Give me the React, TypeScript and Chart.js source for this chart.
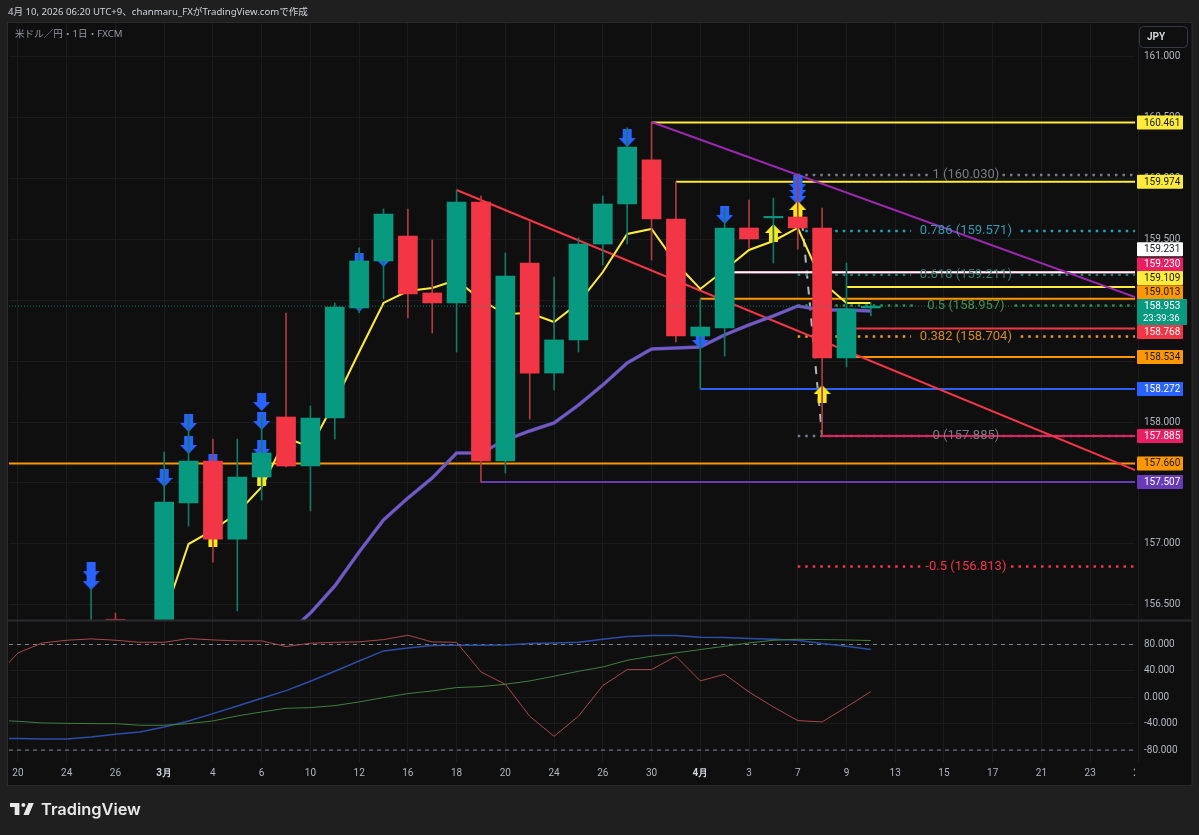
import React, { useEffect, useRef } from "react";
import { Chart, registerables } from "chart.js";

Chart.register(...registerables);

// bar positions are trading days: index 0 is 20 Feb
const firstCandle = 3;
const opens = [156.2, 156.38, 156.15, 156.3, 157.335, 157.68, 157.039, 157.549, 158.042, 157.639, 158.034, 158.938, 159.324, 159.529, 159.061, 158.979, 159.808, 157.68, 159.307, 158.403, 158.675, 159.463, 159.792, 160.154, 159.669, 158.707, 158.773, 159.595, 159.678, 159.685, 159.595, 158.527, 158.938];
const highs = [156.637, 156.431, 156.35, 157.754, 158.058, 157.861, 157.861, 158.058, 158.896, 158.132, 158.979, 159.431, 159.751, 159.751, 159.496, 159.907, 159.858, 159.39, 159.644, 159.192, 159.513, 159.858, 160.417, 160.461, 159.974, 159.013, 159.759, 159.825, 159.841, 160.03, 159.759, 159.307, 158.98];
const lows = [156.0, 156.1, 156.0, 156.2, 157.146, 156.85, 156.448, 157.36, 157.631, 157.27, 157.861, 158.9, 159.011, 158.855, 158.732, 158.576, 157.507, 157.582, 158.025, 158.264, 158.576, 159.291, 159.463, 159.332, 158.658, 158.272, 158.543, 159.431, 159.307, 159.42, 157.885, 158.453, 158.872];
const closes = [156.3, 156.2, 156.3, 157.343, 157.68, 157.039, 157.549, 157.746, 157.639, 158.034, 158.946, 159.324, 159.71, 159.053, 158.979, 159.808, 157.68, 159.2, 158.403, 158.675, 159.463, 159.792, 160.26, 159.669, 158.707, 158.781, 159.595, 159.505, 159.69, 159.595, 158.527, 158.929, 158.953];

const fastMaStart = 6;
const fastMa = [156.407, 156.998, 157.113, 157.253, 157.467, 157.869, 157.795, 158.165, 158.576, 158.979, 159.077, 159.102, 159.168, 159.003, 158.888, 158.896, 158.822, 158.979, 159.233, 159.546, 159.587, 159.307, 159.094, 159.25, 159.414, 159.488, 159.595, 159.151, 158.979, 158.979];
const slowMaStart = 10;
const slowMa = [156.127, 156.25, 156.431, 156.653, 156.933, 157.196, 157.376, 157.541, 157.746, 157.746, 157.853, 157.927, 157.993, 158.14, 158.305, 158.486, 158.6, 158.609, 158.617, 158.716, 158.798, 158.872, 158.954, 158.921, 158.921, 158.913];

const downArrows = [[3, 156.776], [3, 156.694], [4, 156.308], [6, 157.541], [7, 157.993], [7, 157.812], [8, 157.664], [10, 158.165], [10, 158.009], [10, 157.779], [14, 159.316], [14, 158.979], [15, 159.348], [25, 160.334], [28, 158.675], [29, 159.702], [32, 159.956], [32, 159.907], [32, 159.858]];
const upArrows = [[8, 157.048], [10, 157.549], [31, 159.554], [32, 159.743], [33, 158.231]];

// horizontal rays: price, first bar, colour, label text colour, label shift in px
const rays: [number, number, string, string, number][] = [
  [160.461, 26, "#ffeb3b", "#131722", 0],
  [159.974, 27, "#ffeb3b", "#131722", 0],
  [159.231, 29, "#ffffff", "#131722", -23],
  [159.23, 29, "#e91e63", "#ffffff", -8],
  [159.109, 34, "#ffeb3b", "#131722", -9],
  [159.013, 28, "#ff9800", "#131722", -6.5],
  [158.768, 34, "#f23645", "#ffffff", 3.5],
  [158.534, 34, "#ff9800", "#131722", 0],
  [158.272, 28, "#2962ff", "#ffffff", 0],
  [157.885, 33, "#e91e63", "#ffffff", 0],
  [157.66, -1, "#ff9800", "#131722", 0],
  [157.507, 19, "#673ab7", "#ffffff", 0],
];

// fib levels: text, price, colour, half width of the gap for the text (in bars)
const fibs: [string, number, string, string, number][] = [
  ["1", 160.03, "#787b86", "#787b86", 1.5],
  ["0.786", 159.571, "#1aa6bb", "#2a9db3", 2.25],
  ["0.618", 159.211, "#0f8a78", "#2c7f76", 2.25],
  ["0.5", 158.957, "#2f8f45", "#4a8f4e", 2],
  ["0.382", 158.704, "#ef9a1f", "#d68a1e", 2.25],
  ["0", 157.885, "#787b86", "#787b86", 1.5],
  ["-0.5", 156.813, "#f23645", "#f23645", 1.85],
];
const fibStart = 32;
const fibCentre = 38.9;
const lastPrice = 158.953;

const dayLabels: Record<number, string> = { 0: "20", 2: "24", 4: "26", 6: "3月", 8: "4", 10: "6", 12: "10", 14: "12", 16: "16", 18: "18", 20: "20", 22: "24", 24: "26", 26: "30", 28: "4月", 30: "3", 32: "7", 34: "9", 36: "13", 38: "15", 40: "17", 42: "21", 44: "23", 46: "27" };
const priceTicks = [161, 160.5, 160, 159.5, 159, 158.5, 158, 157.5, 157, 156.5];
const oscTicks = [80, 40, 0, -40, -80];

// oscillator panel, first value is the bar before index 0
const oscRed = [28, 67.3, 82.4, 86.5, 88.5, 86.5, 83.4, 83.4, 89, 87, 85.5, 85.5, 76.9, 81.9, 83.4, 84, 87.5, 94, 84, 83.4, 38.4, 19.7, -28.8, -59.2, -28.8, 17.7, 42, 42, 62.2, 24.8, 34.9, 8, -14.7, -35.4, -37.4, -14.7, 8.6];
const oscBlue = [-62, -62.7, -63.2, -63.2, -60.2, -56.2, -52.6, -45, -35.9, -24.8, -13.2, -1.5, 10.1, 24.3, 39.4, 55.1, 70.3, 74.8, 78.4, 78.9, 78.9, 79.4, 81.4, 82.4, 83.4, 88, 92, 93.6, 93.6, 91, 90.5, 89, 88, 86.5, 81.4, 77.4, 72.3];
const oscGreen = [-35, -36.4, -39, -39.5, -40, -40, -42.5, -42.5, -40, -35.9, -28.3, -22.3, -16.7, -15.7, -12.7, -7.1, -0.5, 5.6, 9.6, 14.7, 16.2, 19.7, 24.8, 31.9, 39.4, 46, 56.1, 62.2, 67.3, 72.3, 77.4, 82.4, 86.5, 88, 87.5, 87, 86];

const GREEN = "#089981";
const RED = "#f23645";
const X_MIN = -0.369;
const X_MAX = 45.84;

const makeArrow = (color: string, up: boolean) => {
  const c = document.createElement("canvas");
  c.width = 17;
  c.height = 18;
  const g = c.getContext("2d")!;
  if (up) {
    g.translate(0, 18);
    g.scale(1, -1);
  }
  g.fillStyle = color;
  g.beginPath();
  g.moveTo(4, 0);
  g.lineTo(13, 0);
  g.lineTo(13, 9);
  g.lineTo(17, 9);
  g.lineTo(8.5, 18);
  g.lineTo(0, 9);
  g.lineTo(4, 9);
  g.closePath();
  g.fill();
  return c;
};

const lineDs = (data: any[], color: string, width: number, order: number, extra: any = {}) => ({
  type: "line" as const,
  data,
  borderColor: color,
  borderWidth: width,
  pointRadius: 0,
  tension: 0,
  order,
  yAxisID: "y",
  ...extra,
});

const priceText = (v: number) => v.toFixed(3);

const framePlugin = {
  id: "frame",
  beforeDraw(chart: any) {
    const { ctx } = chart;
    ctx.save();
    ctx.fillStyle = "#1f1f1f";
    ctx.fillRect(0, 0, chart.width, chart.height);
    ctx.fillStyle = "#0f0f0f";
    ctx.fillRect(8, 23, 1184, 762);
    ctx.restore();
  },
  afterDatasetsDraw(chart: any) {
    const { ctx } = chart;
    const x = chart.scales.x;
    const y = chart.scales.y;
    ctx.save();
    ctx.textAlign = "center";
    ctx.textBaseline = "middle";
    ctx.font = "13px Roboto";
    fibs.forEach(([name, price, , textColor]) => {
      ctx.fillStyle = textColor;
      ctx.fillText(name + " (" + priceText(price) + ")", x.getPixelForValue(fibCentre), y.getPixelForValue(price));
    });
    ctx.restore();
  },
  afterDraw(chart: any) {
    const { ctx } = chart;
    const y = chart.scales.y;
    ctx.save();

    // covers the end of the last date label
    ctx.fillStyle = "#0f0f0f";
    ctx.fillRect(1135, 763, 56, 21);

    // frame and panel divider
    ctx.strokeStyle = "#2b2b2e";
    ctx.lineWidth = 1;
    ctx.strokeRect(7.5, 22.5, 1184.5, 763);
    ctx.lineWidth = 2;
    ctx.beginPath();
    ctx.moveTo(8, 620.5);
    ctx.lineTo(1192, 620.5);
    ctx.stroke();

    ctx.textBaseline = "middle";
    ctx.textAlign = "left";
    ctx.font = '9.6px "Noto Sans", "Noto Sans CJK JP"';
    ctx.fillStyle = "#d1d4dc";
    ctx.fillText("4月 10, 2026 06:20 UTC+9、chanmaru_FXがTradingView.comで作成", 8, 12);
    ctx.fillStyle = "#9598a1";
    ctx.fillText("米ドル／円・1日・FXCM", 15, 34);

    // currency button
    ctx.strokeStyle = "#363a45";
    ctx.lineWidth = 1;
    ctx.beginPath();
    ctx.roundRect(1139.5, 26.5, 48, 21, 4);
    ctx.stroke();
    ctx.font = "bold 10px Roboto";
    ctx.fillStyle = "#d1d4dc";
    ctx.fillText("JPY", 1147, 37);

    // labels of the rays on the price axis
    ctx.font = "10px Roboto";
    rays.forEach(([price, , color, textColor, shift]) => {
      const py = y.getPixelForValue(price) + shift;
      ctx.fillStyle = color;
      ctx.beginPath();
      ctx.roundRect(1137, py - 7, 46, 14, 1);
      ctx.fill();
      ctx.fillStyle = textColor;
      ctx.fillText(priceText(price), 1144, py + 0.5);
    });

    // last price with the countdown
    const ly = y.getPixelForValue(lastPrice);
    ctx.fillStyle = GREEN;
    ctx.beginPath();
    ctx.roundRect(1137, ly - 7, 50, 26, 1);
    ctx.fill();
    ctx.fillStyle = "#ffffff";
    ctx.fillText(priceText(lastPrice), 1144, ly + 0.5);
    ctx.font = "9.5px Roboto";
    ctx.fillText("23:39:36", 1143, ly + 12.5);

    // TradingView mark
    ctx.fillStyle = "#e8e8e8";
    ctx.save();
    ctx.translate(10, 799);
    ctx.scale(0.67, 0.67);
    ctx.fill(new Path2D("M14 6H0v6h7v12h7V6ZM28 24h-8l7.5-18h8L28 24Z"));
    ctx.beginPath();
    ctx.arc(20, 9, 3, 0, Math.PI * 2);
    ctx.fill();
    ctx.restore();
    ctx.font = "600 16.4px Inter";
    ctx.fillText("TradingView", 41, 810.5);
    ctx.restore();
  },
};

export default function App() {
  const canvasRef = useRef<HTMLCanvasElement>(null);

  useEffect(() => {
    document.body.style.margin = "0";
    if (!canvasRef.current) return;

    const isUp = closes.map((c, i) => c >= opens[i]);
    const colors = isUp.map((u) => (u ? GREEN : RED));
    const bars = opens.map((_, i) => i + firstCandle);

    const rayDatasets = rays.map(([price, start, color], i) =>
      lineDs([{ x: start, y: price }, { x: X_MAX, y: price }], color, 2, price === 159.23 ? 9 : 7 + i * 0.01)
    );

    const fibDatasets = fibs.map(([, price, color, , gap]) =>
      lineDs(
        [
          { x: fibStart, y: price },
          { x: fibCentre - gap, y: price },
          { x: fibCentre, y: null },
          { x: fibCentre + gap, y: price },
          { x: X_MAX, y: price },
        ],
        color,
        2.5,
        10,
        { borderDash: [2.5, 5], spanGaps: false }
      )
    );

    const chart = new Chart(canvasRef.current, {
      data: {
        datasets: [
          {
            type: "bar",
            data: bars.map((x, i) => ({ x, y: [opens[i], closes[i]] })),
            backgroundColor: colors,
            barThickness: 19,
            grouped: false,
            order: 1,
            yAxisID: "y",
          },
          {
            type: "bar",
            data: bars.map((x, i) => ({ x, y: [lows[i], highs[i]] })),
            backgroundColor: colors.map((c) => (c === GREEN ? "#0f7a68" : "#b23a44")),
            barThickness: 1,
            grouped: false,
            order: 2,
            yAxisID: "y",
          },
          lineDs(upArrows.map(([x, y]) => ({ x, y })), "#ffeb3b", 0, 3, {
            showLine: false,
            pointStyle: makeArrow("#ffe81a", true),
            pointRadius: 9,
          }),
          lineDs(downArrows.map(([x, y]) => ({ x, y })), "#2962ff", 0, 4, {
            showLine: false,
            pointStyle: makeArrow("#2962ff", false),
            pointRadius: 9,
          }),
          lineDs(fastMa.map((y, i) => ({ x: i + fastMaStart, y })), "#ffeb3b", 2, 5),
          lineDs(slowMa.map((y, i) => ({ x: i + slowMaStart, y })), "#8058bc", 2, 5.1),
          lineDs(slowMa.map((y, i) => ({ x: i + slowMaStart, y })), "#5157c4", 3.5, 5.2),
          lineDs([{ x: 18, y: 159.907 }, { x: X_MAX, y: 157.606 }], "#f23645", 2, 6),
          lineDs([{ x: 26, y: 160.466 }, { x: X_MAX, y: 159.028 }], "#9c27b0", 2, 6),
          lineDs([{ x: 32, y: 160.03 }, { x: 33, y: 157.885 }], "#b2b5be", 2, 11, { borderDash: [8, 8] }),
          ...rayDatasets,
          ...fibDatasets,
          lineDs([{ x: X_MIN, y: lastPrice }, { x: X_MAX, y: lastPrice }], "rgba(8,153,129,0.75)", 1, 0, { borderDash: [1, 2] }),
          lineDs(oscRed.map((y, i) => ({ x: i - 1, y })), "#a8484c", 1, 1, { yAxisID: "osc" }),
          lineDs(oscGreen.map((y, i) => ({ x: i - 1, y })), "#3f7f3f", 1, 2, { yAxisID: "osc" }),
          lineDs(oscBlue.map((y, i) => ({ x: i - 1, y })), "#2b4fa8", 1.5, 3, { yAxisID: "osc" }),
          lineDs([{ x: X_MIN, y: 80 }, { x: X_MAX, y: 80 }], "#80838c", 1, 4, { yAxisID: "osc", borderDash: [4, 4] }),
          lineDs([{ x: X_MIN, y: -80 }, { x: X_MAX, y: -80 }], "#80838c", 1, 4, { yAxisID: "osc", borderDash: [4, 4] }),
        ] as any,
      },
      options: {
        responsive: false,
        animation: false,
        layout: { padding: { left: 8, top: 23, right: 7, bottom: 50 } },
        plugins: { legend: { display: false }, tooltip: { enabled: false } },
        scales: {
          x: {
            type: "linear",
            offset: false,
            min: X_MIN,
            max: X_MAX,
            afterFit: (s: any) => {
              s.height = 23;
            },
            afterBuildTicks: (s: any) => {
              s.ticks = Object.keys(dayLabels).map((k) => ({ value: Number(k) }));
            },
            grid: { color: "#1b1b1d", drawTicks: false, offset: false },
            border: { display: false },
            ticks: {
              autoSkip: false,
              maxRotation: 0,
              padding: 5,
              callback: (v: any) => dayLabels[v as number],
              color: (c: any) => (String(dayLabels[c.tick.value]).includes("月") ? "#d1d4dc" : "#b2b5be"),
              font: (c: any) => ({ family: "Roboto", size: 10, weight: String(dayLabels[c.tick?.value]).includes("月") ? "bold" : "normal" }),
            },
          } as any,
          y: {
            type: "linear",
            position: "right",
            stack: "panes",
            stackWeight: 597,
            weight: 1,
            min: 156.374,
            max: 161.279,
            afterFit: (s: any) => {
              s.width = 57;
            },
            afterBuildTicks: (s: any) => {
              s.ticks = priceTicks.map((value) => ({ value }));
            },
            grid: { color: "#1b1b1d", drawTicks: false },
            border: { display: false },
            ticks: {
              padding: 9,
              color: "#b2b5be",
              font: { family: "Roboto", size: 10 },
              callback: (v: any) => (v === 158.5 ? "" : priceText(v)),
            },
          } as any,
          osc: {
            type: "linear",
            position: "right",
            stack: "panes",
            stackWeight: 142,
            weight: 2,
            min: -98.2,
            max: 117.2,
            afterFit: (s: any) => {
              s.width = 57;
            },
            afterBuildTicks: (s: any) => {
              s.ticks = oscTicks.map((value) => ({ value }));
            },
            grid: { color: "#1b1b1d", drawTicks: false },
            border: { display: false },
            ticks: {
              padding: 9,
              color: "#b2b5be",
              font: { family: "Roboto", size: 10 },
              callback: (v: any) => priceText(v),
            },
          } as any,
        },
      },
      plugins: [framePlugin],
    });
    return () => {
      chart.destroy();
    };
  }, []);

  return <canvas ref={canvasRef} width={1199} height={835} style={{ display: "block" }} />;
}
